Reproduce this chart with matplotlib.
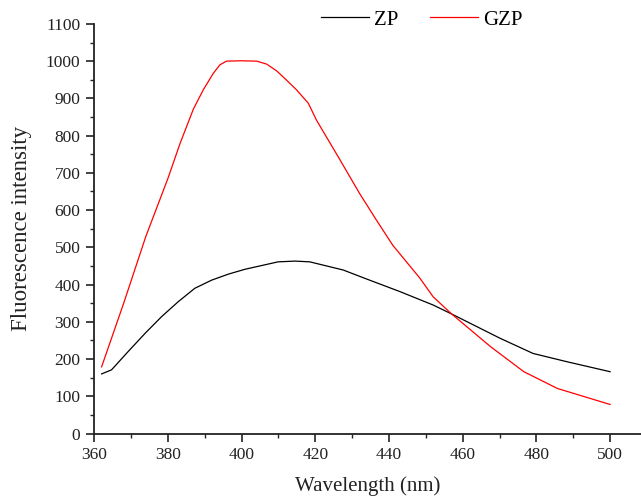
import numpy as np
import matplotlib
matplotlib.use("Agg")
import matplotlib.pyplot as plt
from matplotlib.ticker import MultipleLocator

plt.rcParams['font.family'] = ['Liberation Serif', 'DejaVu Serif']

# ZP (black)
zp_wl = [362, 364.7, 369.2, 373.8, 378.3, 382.8, 387.3, 391.9, 396.4, 400.9,
         405.4, 409.9, 414.5, 418.5, 427.6, 433.9, 443, 452, 457, 470.1,
         479.1, 488.2, 500]
zp_int = [160, 171, 220, 269, 314, 354, 390, 412, 428, 441,
          451, 461, 463, 461, 439, 415, 381, 345, 321, 256,
          215, 193, 166]

# GZP (red)
gzp_wl = [362, 368, 374, 380, 383.3, 386.9, 389.6, 392.3, 394.1, 395.9,
          400, 404.1, 406.8, 409.5, 412.2, 414.9, 418.1, 420.3, 426.7, 432,
          436.6, 441, 448.4, 452, 457, 467.6, 476.6, 485.7, 500]
gzp_int = [179, 350, 529, 685, 779, 871, 923, 967, 990, 1000,
           1001, 1000, 992, 974, 949, 923, 887, 842, 735, 645,
           573, 506, 417, 367, 321, 233, 166, 121, 78]

fig = plt.figure(figsize=(6.41, 4.98), dpi=100)
ax = fig.add_axes([0.147, 0.1295, 0.853, 0.8225])

ax.plot(zp_wl, zp_int, color='black', lw=0.9, label='ZP')
ax.plot(gzp_wl, gzp_int, color='red', lw=0.9, label='GZP')

ax.set_xlim(360, 508.4)
ax.set_ylim(0, 1100)
ax.xaxis.set_major_locator(MultipleLocator(20))
ax.xaxis.set_minor_locator(MultipleLocator(10))
ax.yaxis.set_major_locator(MultipleLocator(100))
ax.yaxis.set_minor_locator(MultipleLocator(50))

for s in ['top', 'right']:
    ax.spines[s].set_visible(False)
for s in ['left', 'bottom']:
    ax.spines[s].set_linewidth(1.3)
    ax.spines[s].set_color('#222222')

ax.tick_params(which='major', direction='out', length=6, width=1.2,
               labelsize=12.5, pad=4, colors='#222222')
ax.tick_params(which='minor', direction='out', length=3, width=1.0, colors='#222222')

ax.set_xlabel('Wavelength (nm)', fontsize=15, labelpad=9, color='#222222')
ax.set_ylabel('Fluorescence intensity', fontsize=16.5, labelpad=10, color='#222222')

ax.legend(loc='center', bbox_to_anchor=(0.6576, 0.96), bbox_transform=fig.transFigure,
          ncol=2, frameon=False, fontsize=15, handlelength=2.3,
          columnspacing=1.5, handletextpad=0.25)

fig.savefig('out.png', dpi=100)
